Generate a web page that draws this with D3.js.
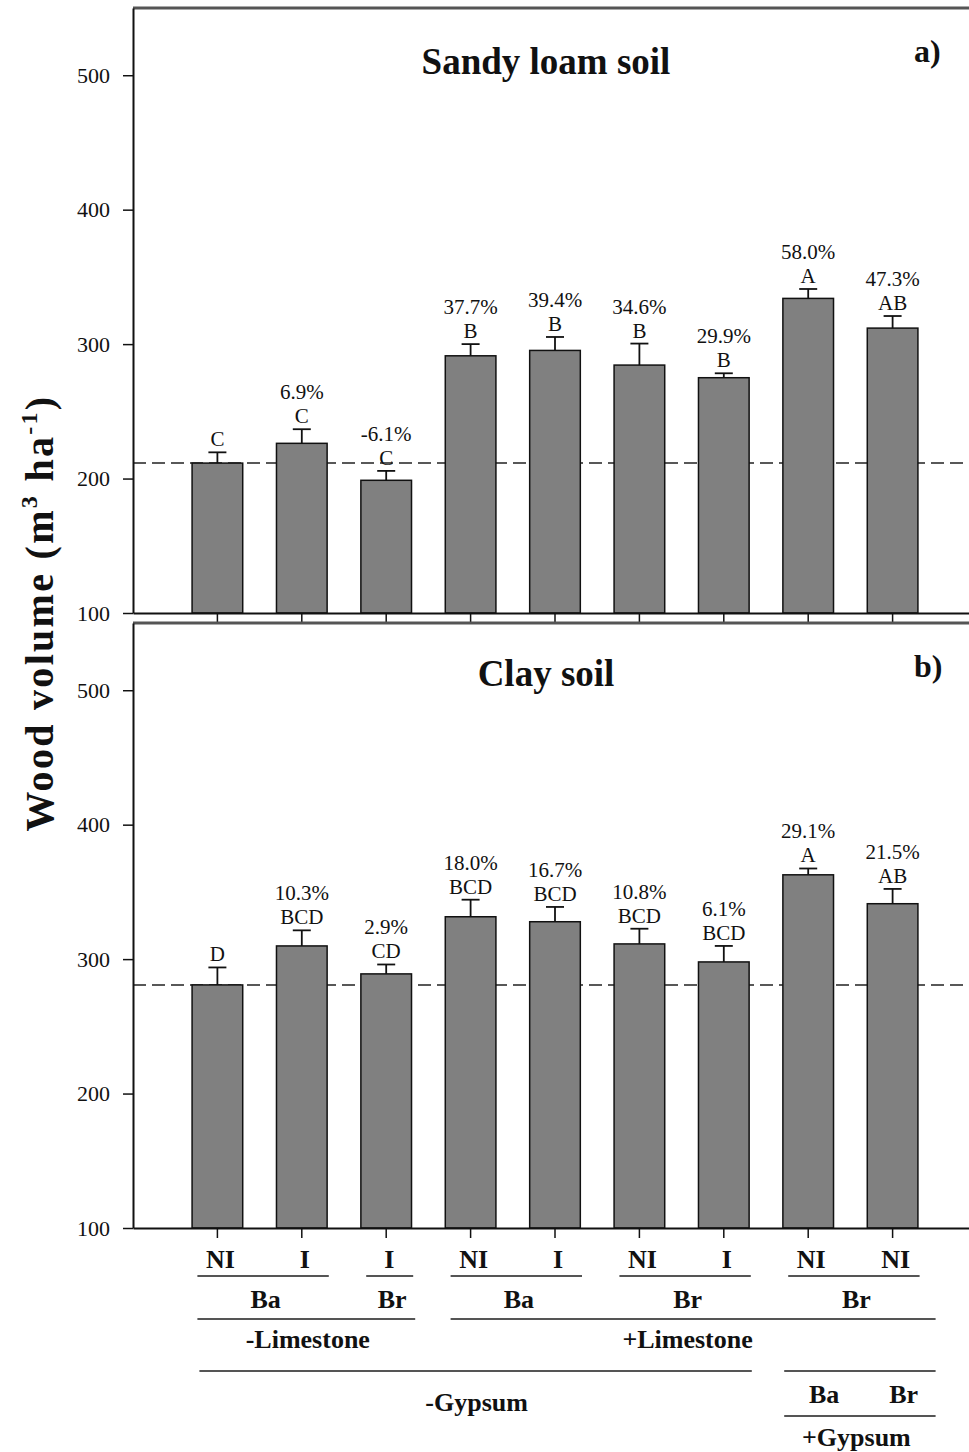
<!DOCTYPE html>
<html>
<head>
<meta charset="utf-8">
<script src="https://cdn.jsdelivr.net/npm/d3@7"></script>
<style>
  body { margin: 0; background: #fff; }
  svg text { font-family: 'Liberation Serif', 'Times New Roman', serif; fill: #111; }
</style>
</head>
<body>
<svg id="chart"></svg>
<script>
// treatments along the x axis (bottom row of labels)
const treatments = ["NI", "I", "I", "NI", "I", "NI", "I", "NI", "NI"];

// Sandy loam soil (panel a)
const sandyMeans = [211.5, 226.2, 198.7, 291.3, 295.3, 284.4, 275.0, 334.0, 311.9];
const sandyErr = [8, 10.5, 7, 8.7, 10, 16, 3.3, 7, 9];
const sandyLetters = ["C", "C", "C", "B", "B", "B", "B", "A", "AB"];
const sandyPct = ["", "6.9%", "-6.1%", "37.7%", "39.4%", "34.6%", "29.9%", "58.0%", "47.3%"];
const sandyControl = 211.5;

// Clay soil (panel b)
const clayMeans = [280.8, 309.8, 289.0, 331.5, 327.8, 311.3, 297.9, 362.7, 341.2];
const clayErr = [13, 11.6, 7, 12.7, 11, 11.3, 11.9, 4.7, 11];
const clayLetters = ["D", "BCD", "CD", "BCD", "BCD", "BCD", "BCD", "A", "AB"];
const clayPct = ["", "10.3%", "2.9%", "18.0%", "16.7%", "10.8%", "6.1%", "29.1%", "21.5%"];
const clayControl = 280.8;

const yTicks = [100, 200, 300, 400, 500];

// grouping rows under the x axis
const cultivarGroups = [
  { label: "Ba", from: 0, to: 1 },
  { label: "Br", from: 2, to: 2 },
  { label: "Ba", from: 3, to: 4 },
  { label: "Br", from: 5, to: 6 },
  { label: "Br", from: 7, to: 8 }
];
const limeGroups = [
  { label: "-Limestone", from: 0, to: 2 },
  { label: "+Limestone", from: 3, to: 8 }
];
const gypsumGroups = [
  { label: "-Gypsum", from: 0, to: 6 },
  { label: "+Gypsum", from: 7, to: 8 }
];
const gypsumSub = ["Ba", "Br"];

const width = 969, height = 1452;
const left = 133, right = 977;

const svg = d3.select("#chart")
  .attr("width", width)
  .attr("height", height);

const idx = treatments.map((d, i) => i);
const x = d3.scaleBand()
  .domain(idx)
  .range([left, right])
  .paddingInner(0.4)
  .paddingOuter(0.7);
const cx = i => x(i) + x.bandwidth() / 2;

function drawPanel(p) {
  const y = d3.scaleLinear().domain([100, 550]).range([p.bottom, p.top]);
  const g = svg.append("g");

  // frame top line
  g.append("line")
    .attr("x1", left).attr("x2", width)
    .attr("y1", p.top).attr("y2", p.top)
    .attr("stroke", "#555").attr("stroke-width", 3);

  // dashed control line
  g.append("line")
    .attr("x1", left).attr("x2", width)
    .attr("y1", y(p.control)).attr("y2", y(p.control))
    .attr("stroke", "#222").attr("stroke-width", 1.5)
    .attr("stroke-dasharray", "13,6");

  // bars
  g.selectAll(".bar")
    .data(p.means)
    .enter().append("rect")
    .attr("class", "bar")
    .attr("x", (d, i) => x(i))
    .attr("y", d => y(d))
    .attr("width", x.bandwidth())
    .attr("height", d => y(100) - y(d))
    .attr("fill", "#808080")
    .attr("stroke", "#111")
    .attr("stroke-width", 1.5);

  // error bars (upper only)
  const eb = g.selectAll(".err")
    .data(p.means)
    .enter().append("g")
    .attr("class", "err");
  eb.append("line")
    .attr("x1", (d, i) => cx(i)).attr("x2", (d, i) => cx(i))
    .attr("y1", d => y(d))
    .attr("y2", (d, i) => y(d + p.err[i]))
    .attr("stroke", "#111").attr("stroke-width", 1.8);
  eb.append("line")
    .attr("x1", (d, i) => cx(i) - 9).attr("x2", (d, i) => cx(i) + 9)
    .attr("y1", (d, i) => y(d + p.err[i]))
    .attr("y2", (d, i) => y(d + p.err[i]))
    .attr("stroke", "#111").attr("stroke-width", 1.8);

  // letters and percentages
  g.selectAll(".letter")
    .data(p.letters)
    .enter().append("text")
    .attr("class", "letter")
    .attr("x", (d, i) => cx(i))
    .attr("y", (d, i) => y(p.means[i] + p.err[i]) - 6)
    .attr("text-anchor", "middle")
    .style("font-size", "21px")
    .text(d => d);
  g.selectAll(".pct")
    .data(p.pct)
    .enter().append("text")
    .attr("class", "pct")
    .attr("x", (d, i) => cx(i))
    .attr("y", (d, i) => y(p.means[i] + p.err[i]) - 30)
    .attr("text-anchor", "middle")
    .style("font-size", "21px")
    .text(d => d);

  // y axis
  g.append("g")
    .attr("transform", `translate(${left},0)`)
    .call(d3.axisLeft(y).tickValues(yTicks).tickSize(10).tickSizeOuter(0).tickPadding(13))
    .call(a => a.select(".domain").attr("stroke", "#111").attr("stroke-width", 2))
    .call(a => a.selectAll(".tick line").attr("stroke", "#111").attr("stroke-width", 1.5))
    .call(a => a.selectAll("text")
      .style("font-family", "'Liberation Serif', 'Times New Roman', serif")
      .style("font-size", "22px").attr("fill", "#111"));

  // x axis
  g.append("g")
    .attr("transform", `translate(0,${p.bottom})`)
    .call(d3.axisBottom(x).tickSize(10).tickSizeOuter(0).tickFormat(""))
    .call(a => a.select(".domain").attr("stroke", "#111").attr("stroke-width", 2))
    .call(a => a.selectAll(".tick line").attr("stroke", "#111").attr("stroke-width", 1.5));

  // panel title and tag
  g.append("text")
    .attr("x", 546).attr("y", p.top + p.titleDy)
    .attr("text-anchor", "middle")
    .style("font-size", "37px").style("font-weight", "bold")
    .text(p.title);
  g.append("text")
    .attr("x", 914).attr("y", p.top + 54)
    .style("font-size", "32px").style("font-weight", "bold")
    .text(p.tag);
}

drawPanel({ top: 8, bottom: 613, means: sandyMeans, err: sandyErr, letters: sandyLetters,
  pct: sandyPct, control: sandyControl, title: "Sandy loam soil", tag: "a)", titleDy: 66 });
drawPanel({ top: 623, bottom: 1228, means: clayMeans, err: clayErr, letters: clayLetters,
  pct: clayPct, control: clayControl, title: "Clay soil", tag: "b)", titleDy: 63 });

// y axis title
const yt = svg.append("text")
  .attr("transform", "translate(53,613) rotate(-90)")
  .attr("text-anchor", "middle")
  .style("font-size", "40px").style("font-weight", "bold")
  .style("letter-spacing", "2.3px");
yt.append("tspan").text("Wood volume (m");
yt.append("tspan").attr("dy", -16).style("font-size", "24px").text("3");
yt.append("tspan").attr("dy", 16).text(" ha");
yt.append("tspan").attr("dy", -16).style("font-size", "24px").text("-1");
yt.append("tspan").attr("dy", 16).text(")");

// category labels under the bottom panel
const lab = svg.append("g").style("font-size", "26px").style("font-weight", "bold");
const rule = (x1, x2, yy) => svg.append("line")
  .attr("x1", x1).attr("x2", x2).attr("y1", yy).attr("y2", yy)
  .attr("stroke", "#555").attr("stroke-width", 2);
const mid = gr => (cx(gr.from) + cx(gr.to)) / 2 + 6;

lab.selectAll(".trt")
  .data(treatments)
  .enter().append("text")
  .attr("x", (d, i) => cx(i) + 3)
  .attr("y", 1268)
  .attr("text-anchor", "middle")
  .text(d => d);

cultivarGroups.forEach(gr => {
  rule(cx(gr.from) - 20, cx(gr.to) + 27, 1276);
  lab.append("text").attr("x", mid(gr)).attr("y", 1308)
    .attr("text-anchor", "middle").text(gr.label);
});

limeGroups.forEach(gr => {
  rule(cx(gr.from) - 20, cx(gr.to) + (gr.to === 8 ? 43 : 29), 1319);
  lab.append("text").attr("x", mid(gr)).attr("y", 1348)
    .attr("text-anchor", "middle").text(gr.label);
});

gypsumGroups.forEach((gr, k) => {
  rule(cx(gr.from) - (k ? 24 : 18), cx(gr.to) + (k ? 43 : 28), 1371);
});
lab.append("text").attr("x", mid(gypsumGroups[0])).attr("y", 1411)
  .attr("text-anchor", "middle").text(gypsumGroups[0].label);
gypsumSub.forEach((s, k) => {
  lab.append("text").attr("x", cx(7 + k) + (k ? 11 : 16)).attr("y", 1403)
    .attr("text-anchor", "middle").text(s);
});
rule(cx(7) - 24, cx(8) + 43, 1416);
lab.append("text").attr("x", mid(gypsumGroups[1])).attr("y", 1446)
  .attr("text-anchor", "middle").text(gypsumGroups[1].label);
</script>
</body>
</html>
